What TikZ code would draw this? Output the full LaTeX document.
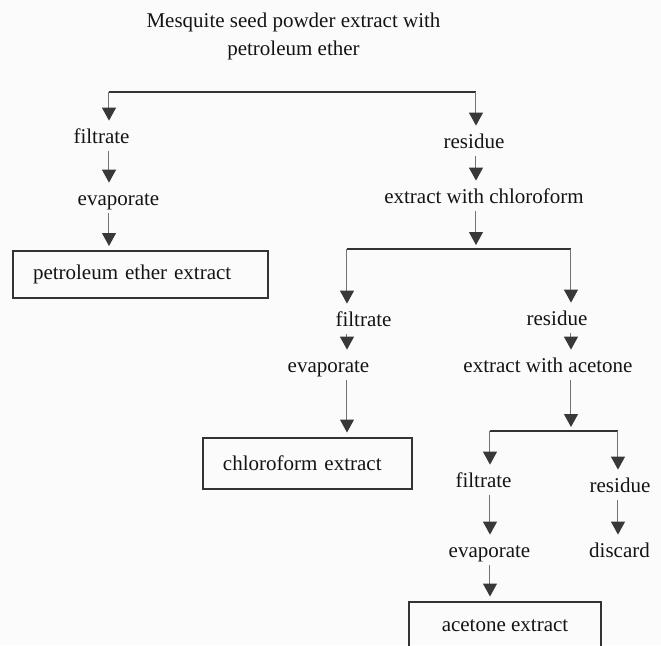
\documentclass[tikz,border=0pt]{standalone}
\usepackage{fontspec}
\setmainfont{Liberation Serif}
\usetikzlibrary{arrows.meta}
\begin{document}
\begin{tikzpicture}[x=0.5pt,y=-0.5pt,
	every node/.style={font=\fontsize{10.5}{14}\selectfont,text=black!92},
	lbl/.style={inner sep=2pt,text height=7pt,text depth=2pt},
	stepbox/.style={draw=black!80,line width=1pt,inner xsep=10pt,inner ysep=0pt,align=left},
	arr/.style={draw=black!55,line width=0.5pt,shorten >=2pt,-{Triangle[width=7pt,length=6.5pt,color=black!78]}},
	split/.style={draw=black!80,line width=0.8pt}]
			\useasboundingbox[fill=gray!3](0,0) rectangle (661,645);
			% first extraction
			\node[align=center] (title) at(293.5,36){Mesquite seed powder extract with\\petroleum ether};
			\coordinate (sL) at(109,92);
			\coordinate (sR) at(476,92);
			\draw[split](sL)--(sR);
			\node[lbl] (filt1) at(101.5,138){filtrate};
			\node[lbl] (evap1) at(118.5,200){evaporate};
			\node[stepbox,text width=107.5pt,minimum height=23.5pt] (box1) at(140.5,274.5){petroleum ether extract};
			\node[lbl] (res1) at(474,143){residue};
			\node[lbl] (chl) at(484,198){extract with chloroform};
			\draw[arr](sL)--(filt1.north -| sL);
			\draw[arr](filt1.south -| sL)--(evap1.north -| sL);
			\draw[arr](evap1.south -| sL)--(box1.north -| sL);
			\draw[arr](sR)--(res1.north -| sR);
			\draw[arr](res1.south -| sR)--(chl.north -| sR);
			% chloroform
			\coordinate (s2L) at(347,249);
			\coordinate (s2R) at(571,249);
			\draw[split](s2L)--(s2R);
			\draw[arr](chl.south -| sR)--(s2L -| sR);
			\node[lbl] (filt2) at(363.5,321){filtrate};
			\node[lbl] (evap2) at(328.5,367){evaporate};
			\node[stepbox,text width=84.5pt,minimum height=25.5pt] (box2) at(307.5,463){chloroform extract};
			\node[lbl] (res2) at(557,320){residue};
			\node[lbl] (ace) at(548,367){extract with acetone};
			\draw[arr](s2L)--(filt2.north -| s2L);
			\draw[arr](filt2.south -| s2L)--(evap2.north -| s2L);
			\draw[arr](evap2.south -| s2L)--(box2.north -| s2L);
			\draw[arr](s2R)--(res2.north -| s2R);
			\draw[arr](res2.south -| s2R)--(ace.north -| s2R);
			% acetone
			\coordinate (s3L) at(490,431);
			\coordinate (s3R) at(618,431);
			\draw[split](s3L)--(s3R);
			\draw[arr](ace.south -| s2R)--(s3L -| s2R);
			\node[lbl] (filt3) at(483.5,482){filtrate};
			\node[lbl] (evap3) at(489.5,552){evaporate};
			\node[lbl] (res3) at(620,487){residue};
			\node[lbl] (disc) at(619.5,552){discard};
			\node[stepbox,align=center,minimum width=96pt,minimum height=24.5pt] (box3) at(505,626){acetone extract};
			\draw[arr](s3L)--(filt3.north -| s3L);
			\draw[arr](filt3.south -| s3L)--(evap3.north -| s3L);
			\draw[arr](evap3.south -| s3L)--(box3.north -| s3L);
			\draw[arr](s3R)--(res3.north -| s3R);
			\draw[arr](res3.south -| s3R)--(disc.north -| s3R);
\end{tikzpicture}
\end{document}
